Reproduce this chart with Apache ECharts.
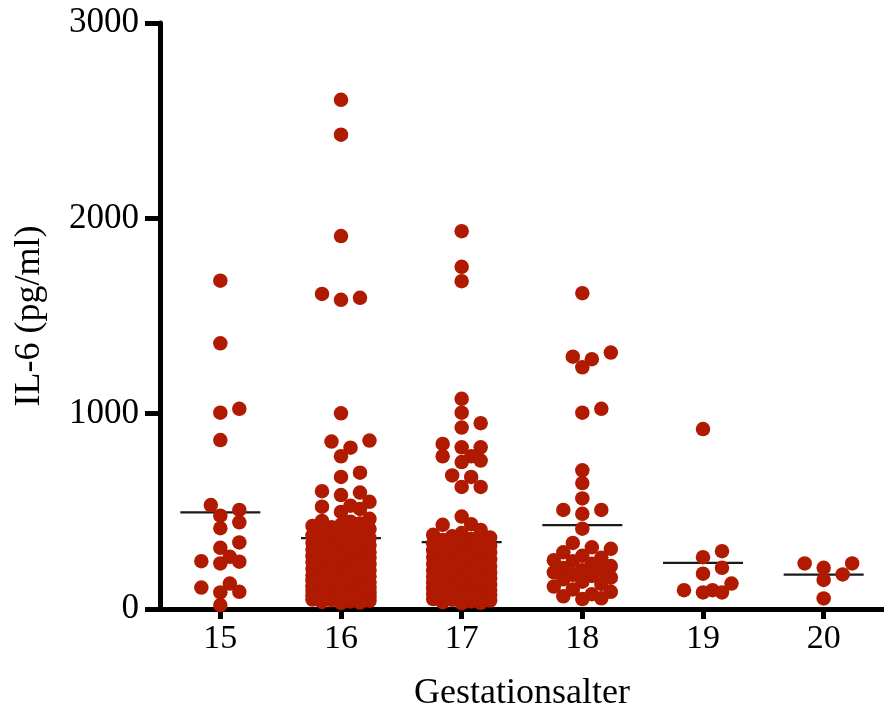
<!DOCTYPE html>
<html>
<head>
<meta charset="utf-8">
<script src="https://cdn.jsdelivr.net/npm/echarts@6/dist/echarts.min.js"></script>
<style>
  html, body { margin: 0; padding: 0; background: #ffffff; }
  #chart { width: 884px; height: 717px; }
</style>
</head>
<body>
<div id="chart"></div>
<script>
// Gestational age groups (weeks)
const categories = ['15', '16', '17', '18', '19', '20'];

// IL-6 measurements (pg/ml) per gestational week
const il6_15 = [1681, 1360, 1025, 1005, 865, 532, 507, 478, 444, 414, 341, 313,
  267, 245, 242, 233, 130, 110, 88, 85, 20];

const il6_16 = [2607, 2428, 1909, 1613, 1593, 1583, 1002, 862, 857, 826, 782, 698,
  676, 603, 596, 583, 549, 529, 524, 512, 497,
  462, 451, 447, 438, 431, 425, 418, 409, 402, 398,
  391, 383, 377, 372, 364, 358, 351, 346, 339, 333,
  327, 322, 318, 309, 303, 298, 291, 287, 281, 276,
  270, 262, 258, 251, 247, 241, 236, 229, 224, 219,
  213, 206, 201, 197, 190, 184, 179, 173, 168, 162,
  157, 151, 146, 142, 137, 131, 126, 121, 116, 111,
  106, 102, 97, 93, 88, 84, 79, 75, 71, 67,
  63, 59, 55, 52, 48, 45, 42, 39, 36, 33, 31,
  60, 72, 85, 95, 110, 130, 150, 170, 190, 215, 240, 265, 290, 320, 350];

const il6_17 = [1934, 1752, 1678, 1076, 1005, 951, 929, 845, 828, 828, 782, 782,
  760, 752, 684, 676, 625, 625, 473, 434, 431, 405, 389, 380,
  372, 366, 359, 353, 348, 341, 336, 329, 324, 318,
  312, 305, 301, 294, 289, 283, 277, 271, 266, 259,
  254, 248, 243, 236, 231, 225, 219, 214, 208, 202,
  197, 191, 186, 180, 174, 169, 163, 158, 152, 146,
  141, 135, 130, 124, 119, 113, 108, 102, 97, 91,
  86, 80, 75, 70, 65, 60, 56, 51, 47, 43, 39, 35, 32, 30,
  66, 78, 90, 105, 125, 145, 165, 185, 210, 240, 270, 300];

const il6_18 = [1617, 1313, 1292, 1279, 1237, 1025, 1005, 710, 645, 566, 507, 507,
  487, 411, 338, 316, 308, 290, 272, 262, 250, 245, 232, 220, 210, 199, 199,
  188, 175, 169, 160, 152, 140, 128, 115, 100, 88, 76, 65, 55, 51];

const il6_19 = [921, 296, 265, 211, 181, 130, 96, 96, 85, 85];

const il6_20 = [233, 233, 211, 177, 149, 54];

const groups = [il6_15, il6_16, il6_17, il6_18, il6_19, il6_20];

const FONT = "'Liberation Serif', 'Times New Roman', serif";
const DOT_COLOR = '#b01a00';
const DOT_SIZE = 14.5;

const chart = echarts.init(document.getElementById('chart'), null, { renderer: 'canvas' });

const axisLineStyle = { color: '#000', width: 5 };

chart.setOption({
  animation: false,
  backgroundColor: '#ffffff',
  grid: { left: 160, right: -10.4, top: 23, bottom: 102, containLabel: false },
  xAxis: [
    {
      type: 'category',
      data: categories,
      boundaryGap: true,
      name: 'Gestationsalter',
      nameLocation: 'middle',
      nameGap: 67,
      nameTextStyle: { fontFamily: FONT, fontSize: 36, color: '#000' },
      axisLine: { show: true, onZero: false, lineStyle: axisLineStyle },
      axisTick: { show: true, alignWithLabel: true, length: 10, lineStyle: { color: '#000', width: 5 } },
      axisLabel: { fontFamily: FONT, fontSize: 34, color: '#000', margin: 13 },
      splitLine: { show: false }
    },
    {
      // numeric companion axis used to place the swarm points around each category
      type: 'value',
      min: -0.5,
      max: 5.5,
      show: false
    }
  ],
  yAxis: {
    type: 'value',
    min: 0,
    max: 3000,
    interval: 1000,
    name: 'IL-6 (pg/ml)',
    nameLocation: 'middle',
    nameGap: 112,
    nameTextStyle: { fontFamily: FONT, fontSize: 36, color: '#000' },
    axisLine: { show: true, onZero: false, lineStyle: axisLineStyle },
    axisTick: { show: true, length: 15, lineStyle: { color: '#000', width: 5 } },
    axisLabel: { fontFamily: FONT, fontSize: 35, color: '#000', margin: 21,
      formatter: v => String(v) },
    splitLine: { show: false }
  },
  series: []
});

// Pixel scales of the drawn axes
const pxPerValue = Math.abs(
  chart.convertToPixel({ yAxisIndex: 0 }, 1000) - chart.convertToPixel({ yAxisIndex: 0 }, 0)
) / 1000;
const pxPerCat = Math.abs(
  chart.convertToPixel({ xAxisIndex: 1 }, 1) - chart.convertToPixel({ xAxisIndex: 1 }, 0)
);

// Beeswarm: points are placed bottom-up on sideways slots of fixed step.
// A point takes the first slot that keeps clear of its neighbours; when the
// column is full it takes the least crowded slot within the allowed width.
function swarmOffsets(values, step, minDist, maxSteps) {
  const order = values.map((v, i) => i).sort((a, b) => values[a] - values[b]);
  const slots = [0];
  for (let s = 1; s <= maxSteps; s++) slots.push(s * step, -s * step);
  const placed = [];
  const offsets = new Array(values.length).fill(0);
  for (const i of order) {
    const y = values[i] * pxPerValue;
    let best = 0, bestD = -1;
    for (const x of slots) {
      let d = Infinity;
      for (const p of placed) d = Math.min(d, Math.hypot(p.x - x, p.y - y));
      if (d >= minDist) { best = x; bestD = d; break; }
      if (d > bestD + 0.01) { bestD = d; best = x; }
    }
    placed.push({ x: best, y });
    offsets[i] = best;
  }
  return offsets;
}

const points = [];
const means = [];
groups.forEach((vals, g) => {
  const offs = swarmOffsets(vals, 9.5, 12, 3);
  vals.forEach((v, i) => points.push([g + offs[i] / pxPerCat, v]));
  const mean = vals.reduce((s, v) => s + v, 0) / vals.length;
  means.push([g, mean]);
});

const halfLine = 40 / pxPerCat;

chart.setOption({
  series: [
    {
      type: 'custom',
      xAxisIndex: 1,
      yAxisIndex: 0,
      z: 1,
      data: means,
      renderItem: function (params, api) {
        const g = api.value(0);
        const m = api.value(1);
        const a = api.coord([g - halfLine, m]);
        const b = api.coord([g + halfLine, m]);
        return {
          type: 'line',
          shape: { x1: a[0], y1: a[1], x2: b[0], y2: b[1] },
          style: { stroke: '#1a1a1a', lineWidth: 2.2 }
        };
      }
    },
    {
      type: 'scatter',
      xAxisIndex: 1,
      yAxisIndex: 0,
      z: 3,
      symbol: 'circle',
      symbolSize: DOT_SIZE,
      itemStyle: { color: DOT_COLOR, opacity: 1 },
      data: points
    }
  ]
});
</script>
</body>
</html>
